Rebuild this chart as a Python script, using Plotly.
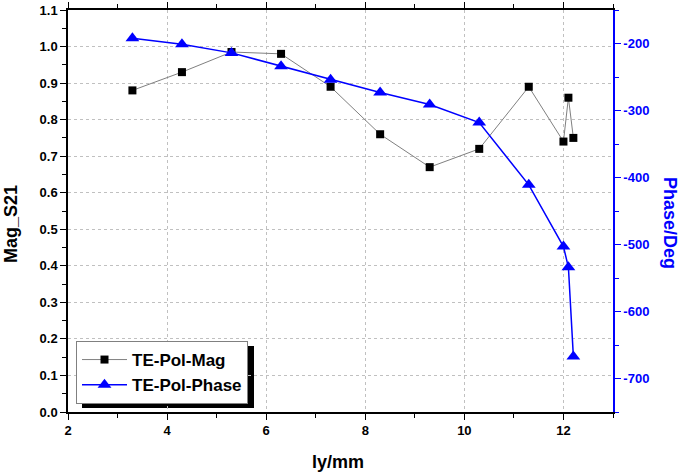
import plotly.graph_objects as go

ly = [3.3, 4.3, 5.3, 6.3, 7.3, 8.3, 9.3, 10.3, 11.3, 12.0, 12.1, 12.2]
mag = [0.88, 0.93, 0.985, 0.98, 0.89, 0.76, 0.67, 0.72, 0.89, 0.74, 0.86, 0.75]
phase = [-192, -201, -214, -234, -254, -273, -291, -318, -411, -503, -534, -667]

phase_tickvals = [-200, -300, -400, -500, -600, -700]
phase_ticktext = ["-200", "-300", "-400", "-500", "-600", "-700"]

FONT = "Liberation Sans, Arial, sans-serif"
BLUE = "#0000ff"

fig = go.Figure()
fig.add_trace(go.Scatter(
    x=ly, y=mag, name="TE-Pol-Mag", mode="lines+markers",
    line=dict(color="#808080", width=1),
    marker=dict(symbol="square", color="black", size=8),
    yaxis="y"))
fig.add_trace(go.Scatter(
    x=ly, y=phase, name="TE-Pol-Phase", mode="lines+markers",
    line=dict(color=BLUE, width=1.5),
    marker=dict(symbol="triangle-up", color=BLUE, size=12),
    yaxis="y2"))

# legend shadow (page px)
fig.add_shape(type="rect", xref="paper", yref="paper",
              x0=(82 - 68) / 545, x1=(254 - 68) / 545,
              y0=(412 - 408) / 402, y1=(412 - 346) / 402,
              fillcolor="black", line=dict(width=0), layer="below")

title_font = dict(family=FONT, size=18, weight="bold")
fig.add_annotation(text="Mag_S21", xref="paper", yref="paper", x=0, y=0.4677,
                   xanchor="center", yanchor="middle",
                   xshift=-57, textangle=-90, showarrow=False,
                   font=dict(**title_font, color="black"))
fig.add_annotation(text="Phase/Deg", xref="paper", yref="paper", x=1, y=0.47,
                   xanchor="center", yanchor="middle",
                   xshift=57, textangle=90, showarrow=False,
                   font=dict(**title_font, color=BLUE))
fig.add_annotation(text="ly/mm", xref="paper", yref="paper", x=0.4954, y=0,
                   xanchor="center", yanchor="middle",
                   yshift=-50, showarrow=False,
                   font=dict(**title_font, color="black"))

fig.update_layout(
    width=685, height=475,
    margin=dict(l=68, r=72, t=10, b=63, autoexpand=False),
    paper_bgcolor="white", plot_bgcolor="white",
    font=dict(family=FONT, color="black"),
    showlegend=True,
    legend=dict(x=(76 - 68) / 545, y=(412 - 341) / 402, xanchor="left", yanchor="top",
                bgcolor="white", bordercolor="#808080", borderwidth=1,
                font=dict(family=FONT, size=17, color="black", weight="bold"),
                tracegroupgap=0, itemwidth=45),
    xaxis=dict(
        range=[2, 13], dtick=2, tick0=2, automargin=False,
        showline=True, linecolor="black", linewidth=1.5, mirror="ticks",
        ticks="outside", ticklen=6, tickcolor="black",
        minor=dict(ticks="outside", ticklen=4, dtick=1, tickcolor="black"),
        showgrid=True, gridcolor="#c0c0c0", griddash="dot", gridwidth=1,
        zeroline=False, ticklabeloverflow="allow",
        tickfont=dict(family=FONT, size=13, color="black", weight="bold"),
    ),
    yaxis=dict(
        range=[0, 1.1], dtick=0.1, tick0=0, tickformat=".1f", automargin=False,
        showline=True, linecolor="black", linewidth=1.5,
        ticks="outside", ticklen=6, tickcolor="black",
        minor=dict(ticks="outside", ticklen=4, dtick=0.05, tickcolor="black"),
        showgrid=True, gridcolor="#c0c0c0", griddash="dot", gridwidth=1,
        zeroline=False, ticklabeloverflow="allow",
        tickfont=dict(family=FONT, size=13, color="black", weight="bold"),
    ),
    yaxis2=dict(
        range=[-750, -150], overlaying="y", side="right", automargin=False,
        tickmode="array", tickvals=phase_tickvals, ticktext=phase_ticktext,
        showline=True, linecolor=BLUE, linewidth=1.5,
        ticks="outside", ticklen=6, tickcolor=BLUE,
        minor=dict(ticks="outside", ticklen=4, dtick=50, tick0=-750, tickcolor=BLUE),
        showgrid=False, zeroline=False, ticklabeloverflow="allow",
        tickfont=dict(family=FONT, size=13, color=BLUE, weight="bold"),
    ),
)

fig.write_html("out.html", config={"displayModeBar": False},
               post_script="document.body.style.margin='0';")
